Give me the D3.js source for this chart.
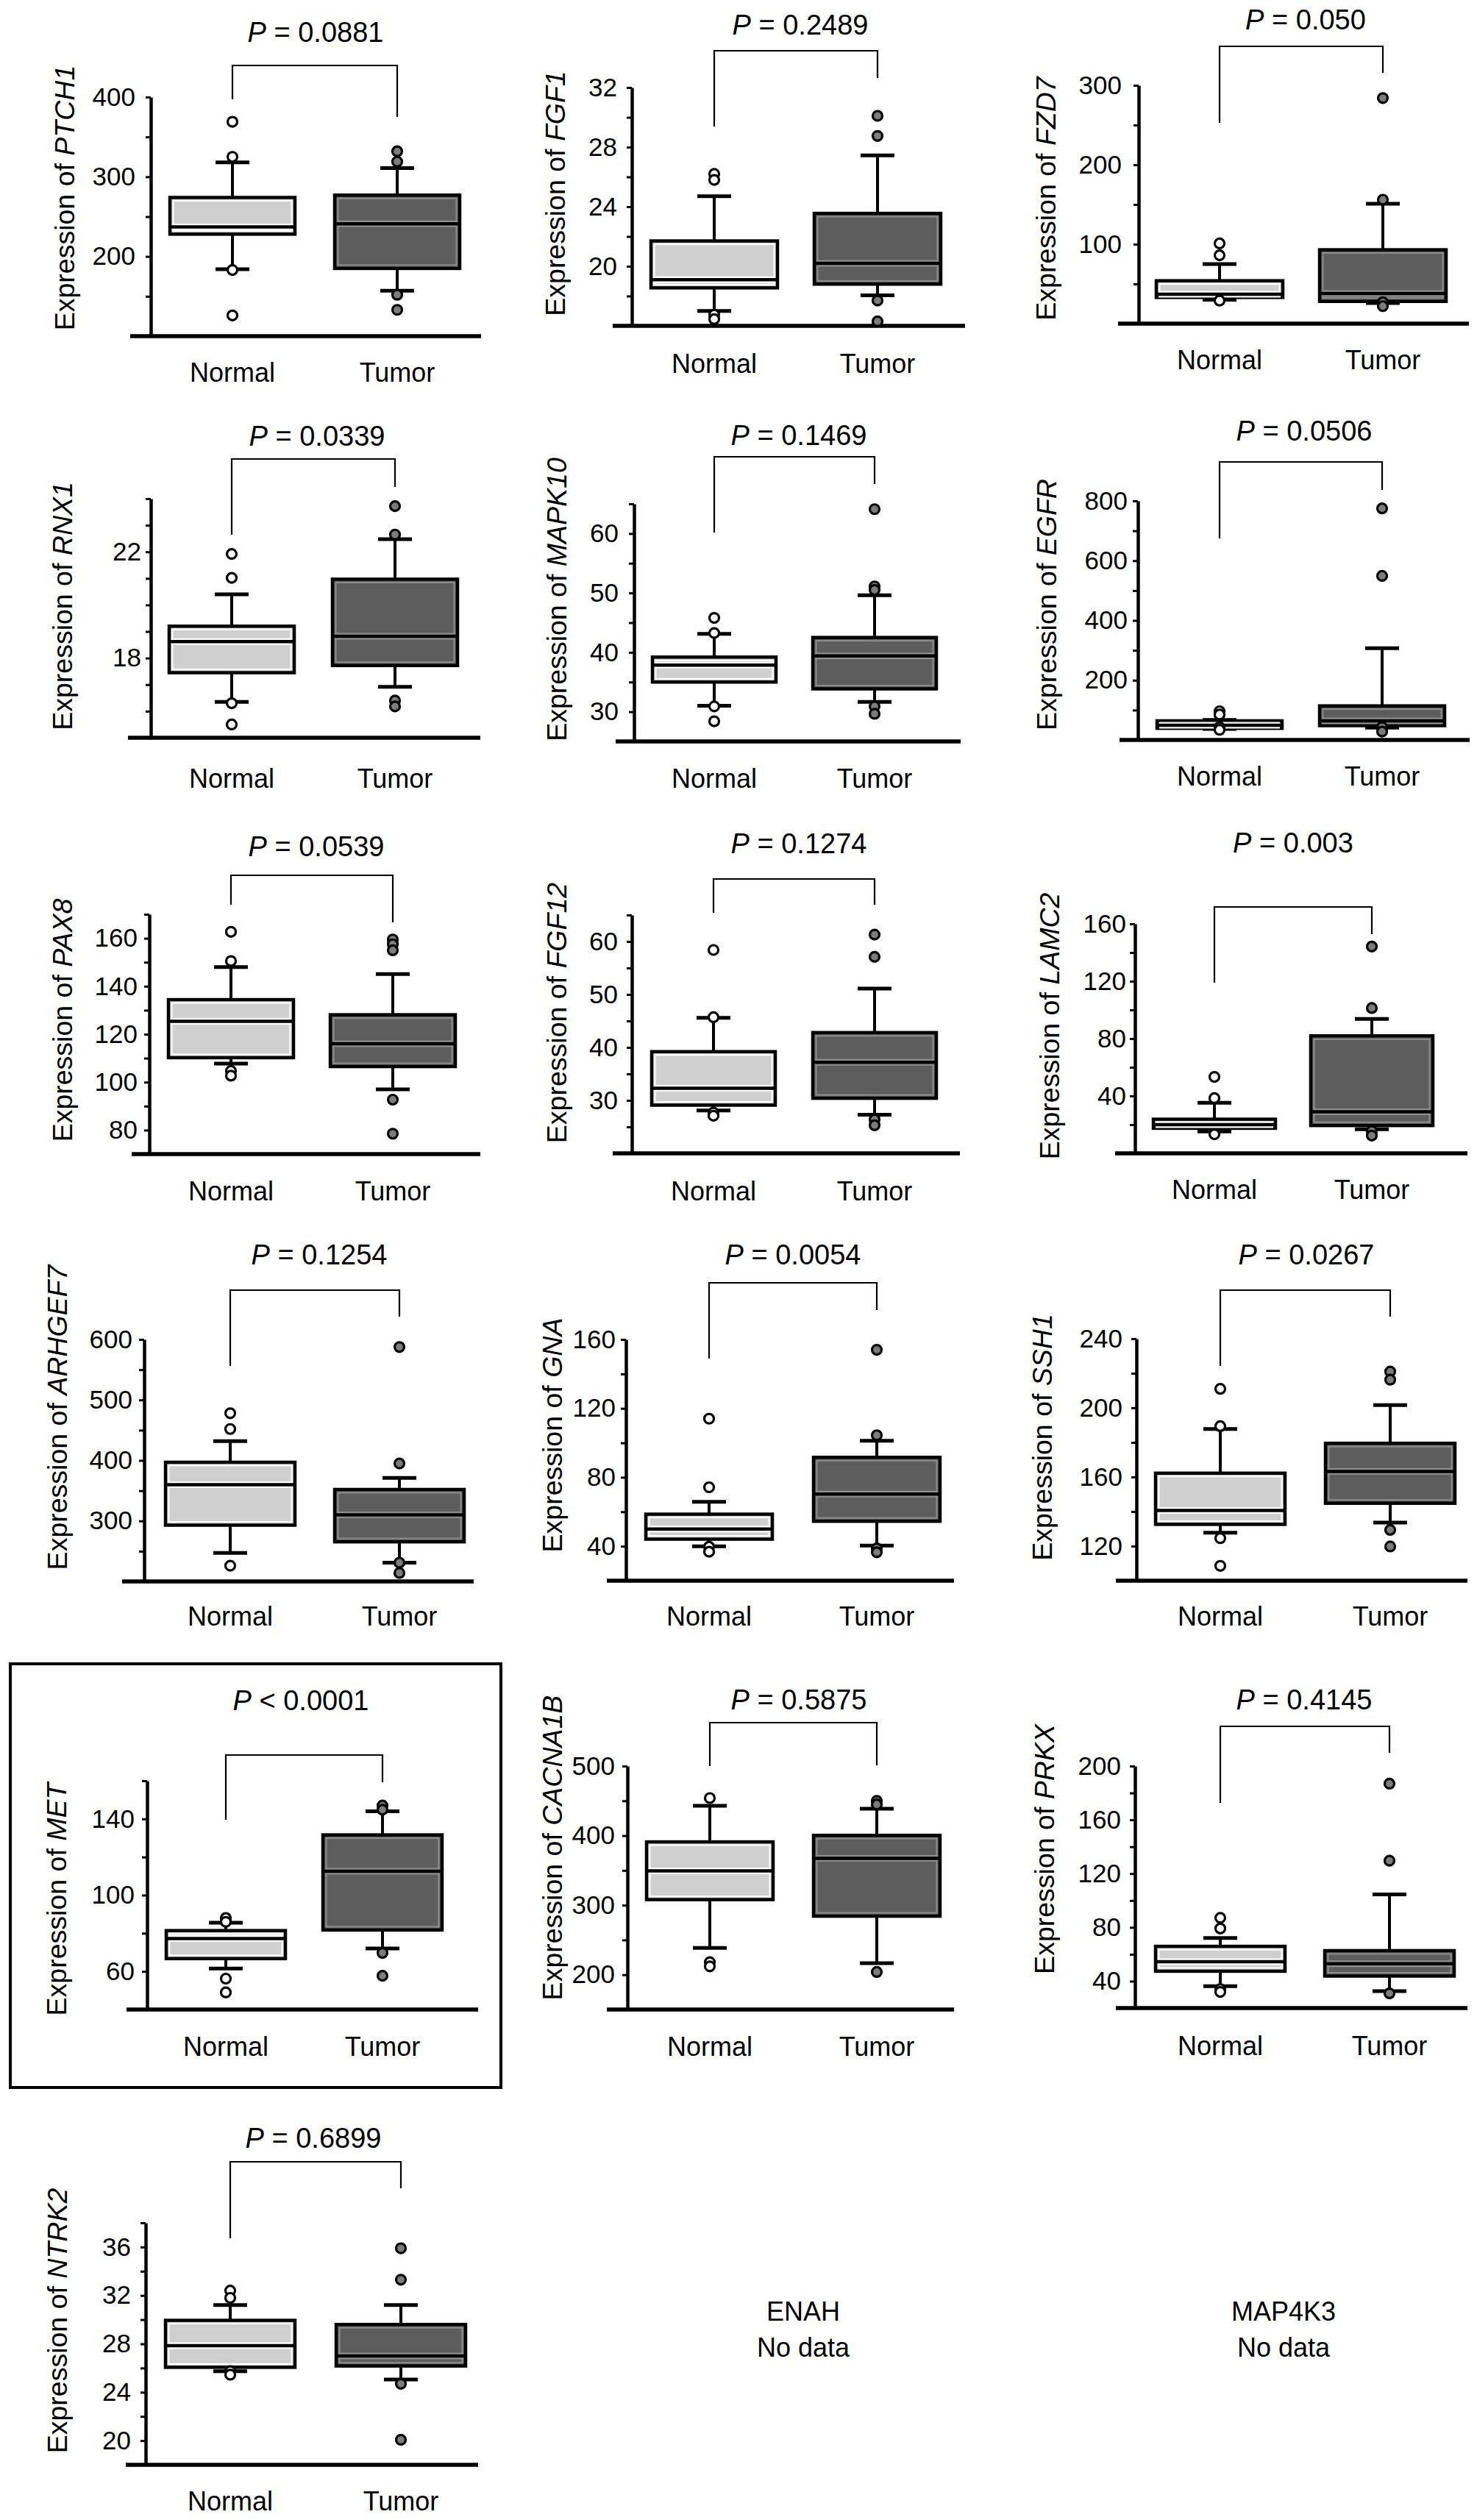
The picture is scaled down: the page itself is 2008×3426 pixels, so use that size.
<!DOCTYPE html>
<html><head><meta charset="utf-8">
<script src="https://cdn.jsdelivr.net/npm/d3@7"></script>
<style>html,body{margin:0;padding:0;background:#fff}svg{display:block}</style>
</head><body><svg id="chart" width="2008" height="3426"></svg>
<script>
// ---------------- DATA ----------------
const genes = ["PTCH1","FGF1","FZD7","RNX1","MAPK10","EGFR","PAX8","FGF12","LAMC2","ARHGEF7","GNA","SSH1","MET","CACNA1B","PRKX","NTRK2"];
const groups = ["Normal","Tumor"];
const pOps = ["=","=","=","=","=","=","=","=","=","=","=","=","<","=","=","="];
const pValues = ["0.0881","0.2489","0.050","0.0339","0.1469","0.0506","0.0539","0.1274","0.003","0.1254","0.0054","0.0267","0.0001","0.5875","0.4145","0.6899"];
// [lower whisker, Q1, median, Q3, upper whisker]
const normalBox = [
  [184,228,237,274,318],[17.0,18.55,19.1,21.7,24.7],[30,33,37,54,75],
  [16.35,17.45,18.62,19.2,20.4],[31.0,35.0,37.85,39.2,43.1],[37,39,49,64,67],
  [107.7,110.2,125.4,134.4,148],[28.1,29.1,32.3,39.2,45.6],[15.2,17.5,20,23.8,35.2],
  [247,293,360,397,432],[40,44.1,50,58.6,65.8],[127.8,132.6,140.6,162.2,187.8],
  [61.5,66.7,77.2,81.4,85.5],[238.6,308,349.4,391,443],[36.3,47.4,54.5,65.9,72.1],
  [25.74,26.06,27.85,29.94,31.2]
];
const tumorBox = [
  [157,185,241,277,311],[18.05,18.8,20.2,23.55,27.45],[26,28,38,93,151],
  [16.92,17.72,18.82,20.97,22.48],[31.65,33.85,39.4,42.5,49.6],[41,48,64,114,307],
  [97,106.5,116,128.1,145.1],[27.3,30.4,37.2,42.8,51.1],[16.8,19.4,29,81.9,93.7],
  [231,265.5,310,352,371],[40.4,54.5,70.3,91.6,101.2],[133.6,144.8,163.2,179.5,201.6],
  [72,81.7,112.5,131.6,144],[216.6,284.2,367.2,400.4,438.6],[32.6,43.8,53,62.7,104.5],
  [25.05,26.17,27.0,29.6,31.2]
];
const normalOutliers = [
  [369,325,183,126],[26.2,25.8,16.75,16.45],[101,86,29],
  [21.92,21.02,16.3,15.5],[45.8,43.25,30.9,28.4],[96,85,43,34],
  [162.7,150.5,104.7,102.7],[58.4,45.7,27.7,27.1],[53.3,38.5,13.3],
  [478,452,226],[114,74.2,39.7,36.8],[211,189.4,124.6,108.6],
  [88,86,56.2,49],[454,218,212],[87.1,79.2,34.1,32],
  [32.4,31.8,25.74,25.45]
];
const tumorOutliers = [
  [332,319,152,133],[30.1,28.75,17.7,16.3],[284,156,27,22],
  [23.72,22.65,16.4,16.18],[64.1,51.1,50.5,30.9,29.65],[775,549,43,28],
  [159.5,157.5,155,92.7,78.5],[61.3,57.1,26.4,25.3],[144.2,101.3,15.6,12.4],
  [587.5,395,231,214],[154,104.4,38.7,36.5],[221,216.3,129.4,119.8],
  [147,144.8,69.7,57.7],[450,444.8,204],[186.9,129.6,30.9],
  [35.9,33.3,24.7,20.07]
];
const yDomains = [[100,400],[16,32],[0,300],[15,24],[25,65],[0,800],[70,170],[20,65],[0,160],
  [200,600],[20,160],[100,240],[40,160],[150,500],[20,200],[18,38]];
const tickSteps = [50,2,50,1,5,100,10,5,20,50,20,20,20,50,20,2];
const tickLabels = [[200,300,400],[20,24,28,32],[100,200,300],[18,22],[30,40,50,60],[200,400,600,800],
  [80,100,120,140,160],[30,40,50,60],[40,80,120,160],[300,400,500,600],[40,80,120,160],
  [120,160,200,240],[60,100,140],[200,300,400,500],[40,80,120,160,200],[20,24,28,32,36]];
const noDataGenes = ["ENAH","MAP4K3"];
const highlightedGene = "MET";

// ---------------- LAYOUT (pixel positions) ----------------
const panelLayout = [
  {axisX:205,top:132,bottom:457,xL:177,xR:654,cN:316,cT:540,half:85,brY:89,brL:135,brR:159,pX:429,pY:57,tX:87,tY:269,labY:519,pad:14},
  {axisX:859,top:119,bottom:443,xL:833,xR:1312,cN:971,cT:1193,half:86,brY:69,brL:172,brR:106,pX:1088,pY:47,tX:754,tY:263,labY:507,pad:13},
  {axisX:1548,top:116,bottom:440,xL:1520,xR:1997,cN:1658,cT:1880,half:86,brY:63,brL:167,brR:99,pX:1775,pY:40,tX:1421,tY:270,labY:502,pad:16},
  {axisX:205,top:678,bottom:1003,xL:174,xR:653,cN:315,cT:537,half:85,brY:624,brL:727,brR:662,pX:431,pY:606,tX:84,tY:824,labY:1071,pad:6},
  {axisX:862,top:685,bottom:1008,xL:837,xR:1306,cN:971,cT:1189,half:84,brY:621,brL:724,brR:658,pX:1086,pY:605,tX:756,tY:815,labY:1071,pad:14},
  {axisX:1547,top:681,bottom:1006,xL:1522,xR:1998,cN:1658,cT:1879,half:85,brY:628,brL:732,brR:666,pX:1773,pY:599,tX:1422,tY:822,labY:1068,pad:7},
  {axisX:203,top:1243,bottom:1569,xL:179,xR:653,cN:314,cT:534,half:85,brY:1190,brL:1230,brR:1254,pX:430,pY:1164,tX:84,tY:1387,labY:1632,pad:9},
  {axisX:859,top:1244,bottom:1568,xL:833,xR:1305,cN:970,cT:1189,half:84,brY:1195,brL:1241,brR:1230,pX:1086,pY:1160,tX:756,tY:1377,labY:1632,pad:12},
  {axisX:1543,top:1256,bottom:1568,xL:1516,xR:1995,cN:1651,cT:1865,half:83,brY:1233,brL:1336,brR:1270,pX:1758,pY:1159,tX:1426,tY:1395,labY:1630,pad:5},
  {axisX:196,top:1821,bottom:2150,xL:166,xR:644,cN:313,cT:543,half:88,brY:1754,brL:1857,brR:1790,pX:434,pY:1719,tX:77,tY:1927,labY:2210,pad:9},
  {axisX:851,top:1821,bottom:2149,xL:825,xR:1297,cN:964,cT:1192,half:86,brY:1744,brL:1847,brR:1781,pX:1078,pY:1719,tX:750,tY:1951,labY:2210,pad:7},
  {axisX:1545,top:1820,bottom:2149,xL:1517,xR:1995,cN:1659,cT:1890,half:88,brY:1754,brL:1857,brR:1790,pX:1776,pY:1719,tX:1416,tY:1954,labY:2210,pad:12},
  {axisX:200,top:2421,bottom:2732,xL:172,xR:650,cN:307,cT:520,half:81,brY:2386,brL:2474,brR:2423,pX:409,pY:2325,tX:76,tY:2582,labY:2795,pad:10},
  {axisX:853,top:2401,bottom:2732,xL:825,xR:1297,cN:965,cT:1192,half:86,brY:2342,brL:2401,brR:2400,pX:1086,pY:2324,tX:750,tY:2512,labY:2795,pad:10},
  {axisX:1543,top:2401,bottom:2730,xL:1517,xR:1995,cN:1659,cT:1889,half:88,brY:2347,brL:2451,brR:2383,pX:1773,pY:2324,tX:1419,tY:2514,labY:2794,pad:12},
  {axisX:198,top:3022,bottom:3351,xL:171,xR:650,cN:313,cT:545,half:88,brY:2939,brL:3043,brR:2975,pX:426,pY:2920,tX:77,tY:3155,labY:3413,pad:13}
];
const frameLayout = {x:14,y:2262,w:667,h:576};
const noDataLayout = [{x:1092,y1:3155,y2:3204},{x:1745,y1:3155,y2:3204}];

// ---------------- STYLES ----------------
const FONT = "'Liberation Sans', Arial, Helvetica, sans-serif";
const groupStyle = {
  Normal:{fill:"#cfcfcf", inner:"#ffffff", dot:"#ffffff"},
  Tumor:{fill:"#5d5d5d", inner:"#8e8e8e", dot:"#7c7c7c"}
};

// ---------------- DRAW ----------------
const svg = d3.select("#chart");
svg.append("rect").attr("width",2008).attr("height",3426).attr("fill","#fff");

genes.forEach((gene,i)=>{
  const L = panelLayout[i];
  const g = svg.append("g").attr("class","panel");
  const y = d3.scaleLinear().domain(yDomains[i]).range([L.bottom, L.top]);
  const x = d3.scalePoint().domain(groups).range([L.cN, L.cT]);

  const [d0,d1] = yDomains[i];
  const step = tickSteps[i];
  const ticks = d3.range(Math.floor(d0/step)*step + step, d1 + step/2, step);
  const axis = d3.axisLeft(y).tickValues(ticks).tickSize(7).tickSizeOuter(0)
    .tickPadding(L.pad).tickFormat(d => tickLabels[i].includes(d) ? String(d) : "");
  const ag = g.append("g").attr("transform",`translate(${L.axisX},0)`).call(axis);
  ag.select(".domain").attr("stroke","#000").attr("stroke-width",4.5);
  ag.selectAll(".tick line").attr("stroke","#000").attr("stroke-width",3);
  ag.selectAll(".tick text").attr("font-size",35).attr("font-family",FONT).attr("fill","#000");

  // x axis line
  g.append("line").attr("x1",L.xL).attr("x2",L.xR).attr("y1",L.bottom).attr("y2",L.bottom)
    .attr("stroke","#000").attr("stroke-width",5.5);

  groups.forEach((grp,k)=>{
    const s = k ? tumorBox[i] : normalBox[i];
    const outs = k ? tumorOutliers[i] : normalOutliers[i];
    const st = groupStyle[grp];
    const cx = x(grp);
    const [lo,q1,med,q3,hi] = s;
    const gg = g.append("g");
    // whiskers
    gg.append("line").attr("x1",cx).attr("x2",cx).attr("y1",y(hi)).attr("y2",y(q3))
      .attr("stroke","#000").attr("stroke-width",4);
    gg.append("line").attr("x1",cx).attr("x2",cx).attr("y1",y(q1)).attr("y2",y(lo))
      .attr("stroke","#000").attr("stroke-width",4);
    [hi,lo].forEach(v=>{
      gg.append("line").attr("x1",cx-23).attr("x2",cx+23).attr("y1",y(v)).attr("y2",y(v))
        .attr("stroke","#000").attr("stroke-width",5);
    });
    // box
    const bx = cx - L.half, bw = 2*L.half, by = y(q3), bh = y(q1) - y(q3);
    gg.append("rect").attr("x",bx).attr("y",by).attr("width",bw).attr("height",bh)
      .attr("fill",st.fill).attr("stroke","#000").attr("stroke-width",4.5);
    if (bh > 12) {
      gg.append("rect").attr("x",bx+4.5).attr("y",by+4.5).attr("width",bw-9).attr("height",bh-9)
        .attr("fill","none").attr("stroke",st.inner).attr("stroke-width",2);
    }
    // median
    gg.append("line").attr("x1",bx+3).attr("x2",bx+bw-3).attr("y1",y(med)).attr("y2",y(med))
      .attr("stroke",st.inner).attr("stroke-width",9);
    gg.append("line").attr("x1",bx).attr("x2",bx+bw).attr("y1",y(med)).attr("y2",y(med))
      .attr("stroke","#000").attr("stroke-width",4.5);
    // outliers
    gg.selectAll("circle.out").data(outs).join("circle").attr("class","out")
      .attr("cx",cx).attr("cy",d=>y(d)).attr("r",6.5)
      .attr("fill",st.dot).attr("stroke","#000").attr("stroke-width",3.2);

    // group label
    g.append("text").attr("x",cx).attr("y",L.labY).attr("text-anchor","middle")
      .attr("font-size",36).attr("font-family",FONT).attr("fill","#000").text(grp);
  });

  // bracket
  g.append("path")
    .attr("d",`M${x("Normal")},${L.brL}V${L.brY}H${x("Tumor")}V${L.brR}`)
    .attr("fill","none").attr("stroke","#000").attr("stroke-width",2.2);

  // P text
  const pt = g.append("text").attr("x",L.pX).attr("y",L.pY).attr("text-anchor","middle")
    .attr("font-size",38).attr("font-family",FONT).attr("fill","#000");
  pt.append("tspan").attr("font-style","italic").text("P");
  pt.append("tspan").text(` ${pOps[i]} ${pValues[i]}`);

  // y title
  const yt = g.append("text").attr("transform",`translate(${L.tX},${L.tY}) rotate(-90)`)
    .attr("dy","0.36em").attr("text-anchor","middle")
    .attr("font-size",37.5).attr("font-family",FONT).attr("fill","#000");
  yt.append("tspan").text("Expression of ");
  yt.append("tspan").attr("font-style","italic").text(gene);

  if (gene === highlightedGene) {
    svg.append("rect").attr("x",frameLayout.x).attr("y",frameLayout.y)
      .attr("width",frameLayout.w).attr("height",frameLayout.h)
      .attr("fill","none").attr("stroke","#000").attr("stroke-width",4);
  }
});

noDataGenes.forEach((name,j)=>{
  const N = noDataLayout[j];
  svg.append("text").attr("x",N.x).attr("y",N.y1).attr("text-anchor","middle")
    .attr("font-size",36).attr("font-family",FONT).attr("fill","#000").text(name);
  svg.append("text").attr("x",N.x).attr("y",N.y2).attr("text-anchor","middle")
    .attr("font-size",36).attr("font-family",FONT).attr("fill","#000").text("No data");
});
</script>
</body></html>
